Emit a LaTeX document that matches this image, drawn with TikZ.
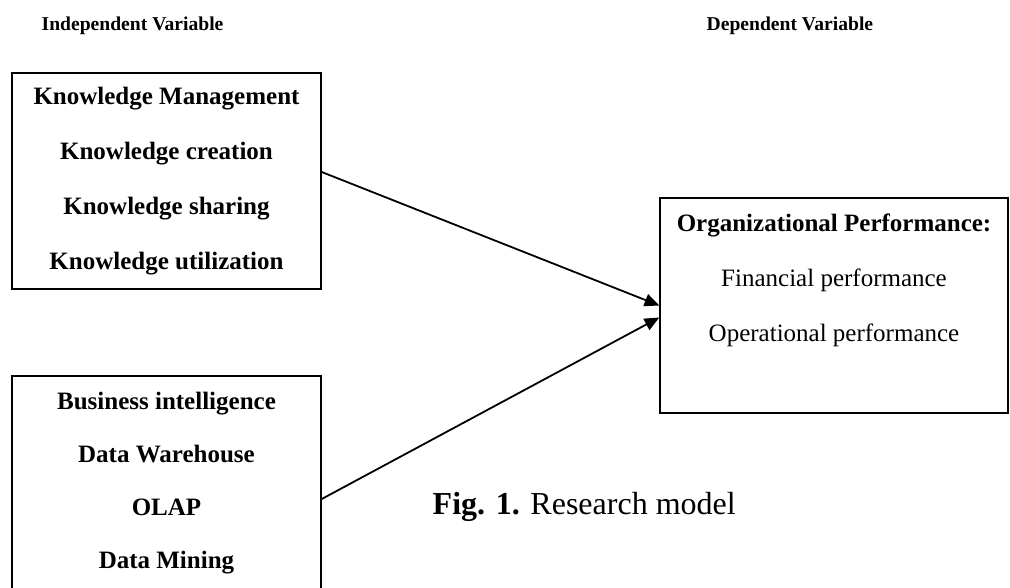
\documentclass[tikz,border=0pt]{standalone}
\usepackage{fontspec}
\setmainfont{Liberation Serif}
\usepackage{tikz}
\usetikzlibrary{arrows.meta}

\begin{document}
\begin{tikzpicture}[x=0.75pt,y=-0.75pt,
  varbox/.style={draw,line width=1.1pt,align=center,inner sep=0pt},
  headtext/.style={anchor=base west,font=\fontsize{14.7pt}{18pt}\selectfont\bfseries},
  link/.style={line width=1.35pt,-{Triangle[length=11pt,width=9.5pt]}}]
\useasboundingbox (0,0) rectangle (1010,587);
\node[headtext] (indep) at (37,30) {Independent Variable};
\node[headtext] (dep) at (702,30) {Dependent Variable};
% independent variables
\node[varbox,minimum width=231.75pt,minimum height=162pt,
  font=\fontsize{18.75pt}{41.25pt}\selectfont\bfseries] (km) at (166.5,181)
  {Knowledge Management\\Knowledge creation\\Knowledge sharing\\Knowledge utilization};
\node[varbox,minimum width=231.75pt,minimum height=160.5pt,
  font=\fontsize{18.75pt}{39.75pt}\selectfont\bfseries] (bi) at (166.5,483)
  {Business intelligence\\Data Warehouse\\OLAP\\Data Mining};
% dependent variable
\node[varbox,minimum width=261pt,minimum height=161.25pt,
  font=\fontsize{18.75pt}{41.25pt}\selectfont] (op) at (834,305.5)
  {\textbf{Organizational Performance:}\\Financial performance\\Operational performance\\\mbox{}};
\draw[link] ([yshift=6.75pt]km.east) -- (op.west);
\draw[link] ([yshift=-12pt]bi.east) -- ([yshift=-9pt]op.west);
\node[anchor=base west,font=\fontsize{24pt}{28pt}\selectfont] (cap) at (428,514)
  {\textbf{Fig. 1.} Research model};
\end{tikzpicture}
\end{document}
